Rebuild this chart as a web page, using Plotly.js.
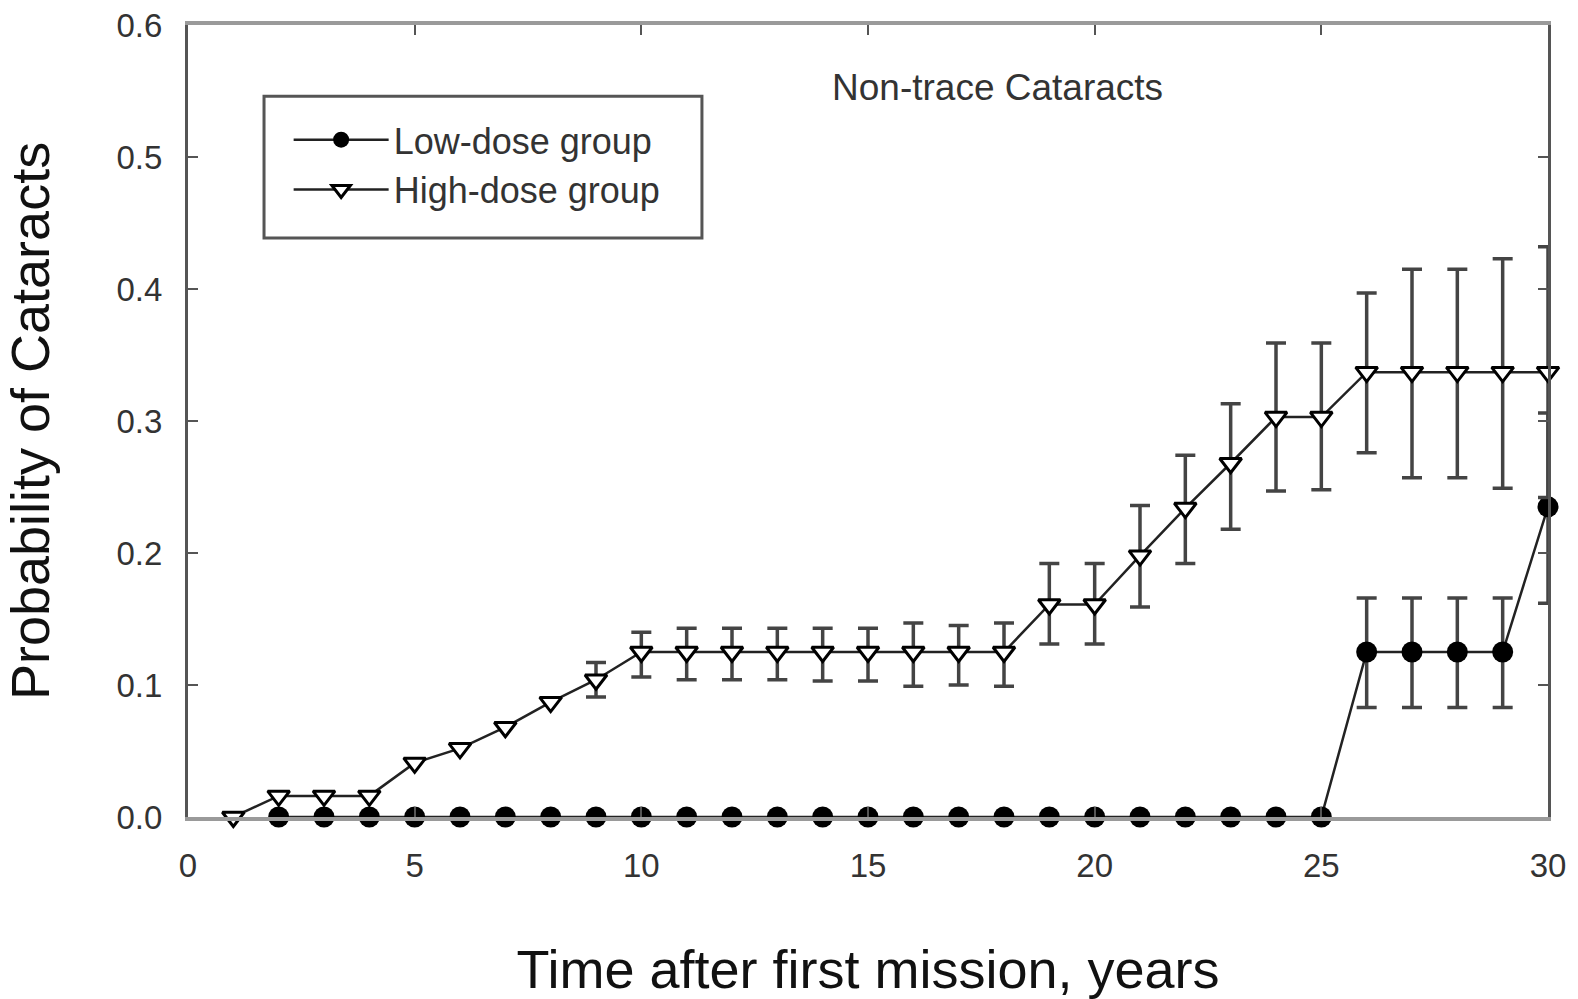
<!DOCTYPE html>
<html>
<head>
<meta charset="utf-8">
<script src="https://cdn.plot.ly/plotly-3.0.1.min.js"></script>
<style>html,body{margin:0;padding:0;background:#fff;}#chart{width:1578px;height:999px;}</style>
</head>
<body>
<div id="chart"></div>
<script>
// ---- data ----
const highYears = [1,2,3,4,5,6,7,8,9,10,11,12,13,14,15,16,17,18,19,20,21,22,23,24,25,26,27,28,29,30];
const highProb  = [0,0.016,0.016,0.016,0.041,0.052,0.068,0.087,0.104,0.125,0.125,0.125,0.125,0.125,0.125,0.125,0.125,0.125,0.161,0.161,0.198,0.234,0.268,0.303,0.303,0.337,0.337,0.337,0.337,0.337];
const highUpper = [null,null,null,null,null,null,null,null,0.117,0.140,0.143,0.143,0.143,0.143,0.143,0.147,0.145,0.147,0.192,0.192,0.236,0.274,0.313,0.359,0.359,0.397,0.415,0.415,0.423,0.432];
const highLower = [null,null,null,null,null,null,null,null,0.091,0.106,0.104,0.104,0.104,0.103,0.103,0.099,0.100,0.099,0.131,0.131,0.159,0.192,0.218,0.247,0.248,0.276,0.257,0.257,0.249,0.242];

const lowYears = [2,3,4,5,6,7,8,9,10,11,12,13,14,15,16,17,18,19,20,21,22,23,24,25,26,27,28,29,30];
const lowProb  = [0,0,0,0,0,0,0,0,0,0,0,0,0,0,0,0,0,0,0,0,0,0,0,0,0.125,0.125,0.125,0.125,0.235];
const lowUpper = [null,null,null,null,null,null,null,null,null,null,null,null,null,null,null,null,null,null,null,null,null,null,null,null,0.166,0.166,0.166,0.166,0.306];
const lowLower = [null,null,null,null,null,null,null,null,null,null,null,null,null,null,null,null,null,null,null,null,null,null,null,null,0.083,0.083,0.083,0.083,0.162];

const seriesNames = ['Low-dose group','High-dose group'];
const chartNote = 'Non-trace Cataracts';
const xTitle = 'Time after first mission, years';
const yTitle = 'Probability of Cataracts';
const xTicks = [0,5,10,15,20,25,30];
const yTicks = [0,0.1,0.2,0.3,0.4,0.5,0.6];

// ---- helpers ----
function plus(y, up){ return y.map((v,i)=> up[i]==null ? NaN : up[i]-v); }
function minus(y, lo){ return y.map((v,i)=> lo[i]==null ? NaN : v-lo[i]); }

const FONT = 'Liberation Sans, Arial, sans-serif';

const traces = [
  {
    x: lowYears, y: lowProb, name: seriesNames[0], type: 'scatter', mode: 'lines+markers',
    line: {color: '#222', width: 2.5},
    marker: {symbol: 'circle', size: 21, color: '#000', line: {width: 0}},
    error_y: {type: 'data', symmetric: false, array: plus(lowProb, lowUpper), arrayminus: minus(lowProb, lowLower),
              color: '#444', thickness: 3.5, width: 10},
    cliponaxis: false
  },
  {
    x: highYears, y: highProb, name: seriesNames[1], type: 'scatter', mode: 'lines+markers',
    line: {color: '#222', width: 2.5},
    marker: {symbol: 'triangle-down', size: 19, color: '#fff', line: {color: '#000', width: 3}},
    error_y: {type: 'data', symmetric: false, array: plus(highProb, highUpper), arrayminus: minus(highProb, highLower),
              color: '#444', thickness: 3.5, width: 10},
    cliponaxis: false
  }
];

const layout = {
  width: 1578, height: 999,
  margin: {l: 188, r: 30, t: 25, b: 182},
  paper_bgcolor: '#fff', plot_bgcolor: '#fff',
  font: {family: FONT, color: '#222'},
  showlegend: true,
  legend: {
    x: 0.074, y: 0.893, xanchor: 'left', yanchor: 'top',
    bgcolor: 'rgba(0,0,0,0)', borderwidth: 0,
    font: {family: FONT, size: 36, color: '#333'},
    itemwidth: 95, tracegroupgap: 0
  },
  xaxis: {
    range: [0, 30], tickvals: xTicks, ticktext: xTicks.map(String),
    showgrid: false, zeroline: false,
    showline: true, linecolor: '#9a9a9a', linewidth: 4, mirror: 'ticks',
    ticks: 'inside', ticklen: 10, tickwidth: 2, tickcolor: '#555',
    tickfont: {family: FONT, size: 33, color: '#333'},
    ticklabelstandoff: 16,
    title: {text: xTitle, font: {family: FONT, size: 54, color: '#111'}, standoff: 82}
  },
  yaxis: {
    range: [0, 0.6], tickvals: yTicks, ticktext: yTicks.map(v=>v.toFixed(1)),
    showgrid: false, zeroline: false,
    showline: true, linecolor: '#555', linewidth: 3, mirror: 'ticks',
    ticks: 'inside', ticklen: 10, tickwidth: 2, tickcolor: '#555',
    tickfont: {family: FONT, size: 33, color: '#333'},
    ticklabelstandoff: 16,
    title: {text: yTitle, font: {family: FONT, size: 54, color: '#111'}, standoff: 50}
  },
  shapes: [
    {type: 'rect', xref: 'paper', yref: 'paper', x0: 0.0559, x1: 0.3779, y0: 0.731, y1: 0.910,
     line: {color: '#555', width: 3}, fillcolor: '#fff', layer: 'below'}
  ],
  annotations: [
    {text: chartNote, xref: 'x', yref: 'y', x: 17.85, y: 0.553, showarrow: false,
     xanchor: 'center', yanchor: 'middle', font: {family: FONT, size: 37, color: '#333'}}
  ]
};

Plotly.newPlot('chart', traces, layout, {displayModeBar: false, staticPlot: true});
</script>
</body>
</html>
